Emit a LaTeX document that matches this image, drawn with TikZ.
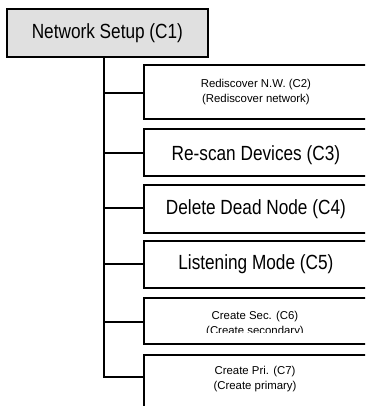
\documentclass[tikz,border=0pt]{standalone}
\usepackage{fontspec}
\setmainfont{Liberation Sans}
\newfontfamily\bigfont{Liberation Sans}[FakeStretch=0.84]
\usetikzlibrary{calc}
\definecolor{rootfill}{RGB}{224,224,224}
\begin{document}
\begin{tikzpicture}[x=1pt,y=-1pt,
  line width=1.8pt,
  box/.style={draw=black, line width=1.8pt, fill=white, anchor=north west, inner sep=0pt, minimum width=224pt},
  big/.style={font=\bigfont\fontsize{20.5}{24}\selectfont},
  small/.style={font=\fontsize{11.4}{14.5}\selectfont, align=center},
  conn/.style={draw=black, line width=1.8pt}
  ]
\clip (0,0) rectangle (365,406);
\node[box, fill=rootfill, minimum width=201pt, minimum height=48pt, big] (c1) at (6,8) {Network Setup (C1)};
\node[box, minimum height=54pt, small] (c2) at (143,64) {Rediscover N.W. (C2)\\(Rediscover network)};
\node[box, minimum height=47pt, big, text height=17pt, text depth=1pt] (c3) at (143,128) {Re-scan Devices (C3)};
\node[box, minimum height=48pt, big] (c4) at (143,184) {Delete Dead Node (C4)};
\node[box, minimum height=47pt, big] (c5) at (143,240) {Listening Mode (C5)};
\node[box, minimum height=46pt] (c6) at (143,297) {};
\begin{scope}
  \clip (143,297) rectangle (367,332);
  \node[small] (c6t) at (255,324) {Create Sec. (C6)\\(Create secondary)};
\end{scope}
\node[box, minimum height=70pt] (c7) at (143,354) {};
\node[small] (c7t) at (255,379) {Create Pri. (C7)\\(Create primary)};
\coordinate (trunk) at ($(c1.south)+(-3.5,0)$);
\coordinate (c2in) at ($(c2.north west)+(0,29)$);
\coordinate (c3in) at ($(c3.north west)+(0,25)$);
\coordinate (c4in) at ($(c4.north west)+(0,24)$);
\coordinate (c5in) at ($(c5.north west)+(0,24)$);
\coordinate (c6in) at ($(c6.north west)+(0,25)$);
\coordinate (c7in) at ($(c7.north west)+(0,23)$);
\draw[conn] (trunk) |- (c7in);
\foreach \n in {c2in,c3in,c4in,c5in,c6in}{
  \draw[conn] (trunk |- \n) -- (\n);
}
\end{tikzpicture}
\end{document}
